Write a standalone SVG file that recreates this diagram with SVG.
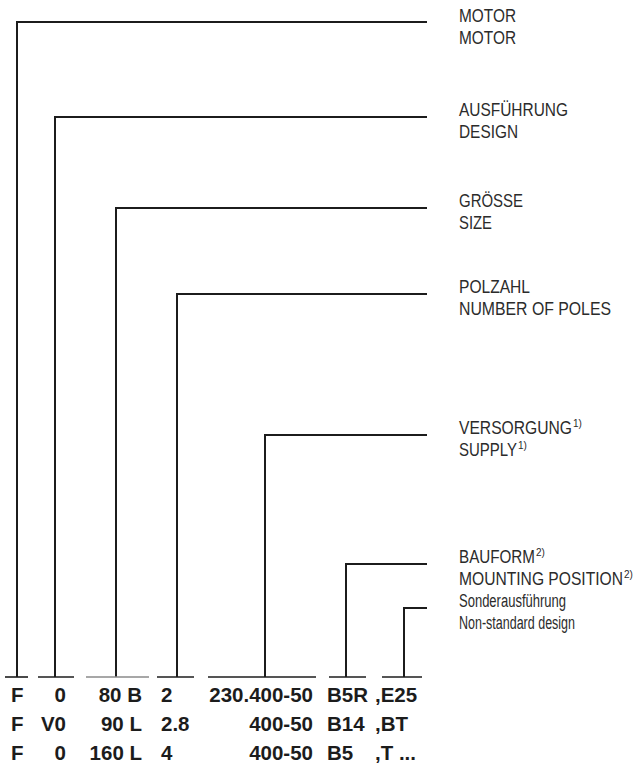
<svg xmlns="http://www.w3.org/2000/svg" width="634" height="765" viewBox="0 0 634 765">
  <style>
    .lead { fill: none; stroke: #1c1c1c; stroke-width: 2; stroke-linecap: butt; }
    .tick { fill: none; stroke: #1c1c1c; stroke-width: 1.6; }
    .tick.soft { stroke: #8a8a8a; }
    .lbl { font-family: "Liberation Sans", Arial, sans-serif; font-size: 18px; fill: #2b2b2b; }
    .sup { font-family: "Liberation Sans", Arial, sans-serif; font-size: 10px; fill: #2b2b2b; }
    .code { font-family: "Liberation Sans", Arial, sans-serif; font-size: 20.5px; font-weight: bold; fill: #1c1c1c; }
  </style>
  <rect width="634" height="765" fill="#ffffff"/>

  <!-- leader lines from each code column up to its caption -->
  <g id="connectors">
    <polyline class="lead" points="17,677 17,22 427,22"/>
    <polyline class="lead" points="55,677 55,117 427,117"/>
    <polyline class="lead" points="116,677 116,208 427,208"/>
    <polyline class="lead" points="177,677 177,294 427,294"/>
    <polyline class="lead" points="265,677 265,435 427,435"/>
    <polyline class="lead" points="346,677 346,564 427,564"/>
    <polyline class="lead" points="404,677 404,608 427,608"/>
    <!-- short bars above each code column -->
    <line class="tick" x1="5" y1="677" x2="28" y2="677"/>
    <line class="tick" x1="38" y1="677" x2="74" y2="677"/>
    <line class="tick soft" x1="86" y1="677" x2="149" y2="677"/>
    <line class="tick" x1="157" y1="677" x2="194" y2="677"/>
    <line class="tick" x1="208" y1="677" x2="316" y2="677"/>
    <line class="tick" x1="329" y1="677" x2="366" y2="677"/>
    <line class="tick" x1="382" y1="677" x2="422" y2="677"/>
  </g>

  <g id="motor">
    <text class="lbl" x="459" y="22" textLength="57" lengthAdjust="spacingAndGlyphs">MOTOR</text>
    <text class="lbl" x="459" y="44" textLength="57" lengthAdjust="spacingAndGlyphs">MOTOR</text>
  </g>
  <g id="design">
    <text class="lbl" x="459" y="116" textLength="109" lengthAdjust="spacingAndGlyphs">AUSFÜHRUNG</text>
    <text class="lbl" x="459" y="138" textLength="59" lengthAdjust="spacingAndGlyphs">DESIGN</text>
  </g>
  <g id="size">
    <text class="lbl" x="459" y="207" textLength="64" lengthAdjust="spacingAndGlyphs">GRÖSSE</text>
    <text class="lbl" x="459" y="229" textLength="33" lengthAdjust="spacingAndGlyphs">SIZE</text>
  </g>
  <g id="poles">
    <text class="lbl" x="459" y="293" textLength="71" lengthAdjust="spacingAndGlyphs">POLZAHL</text>
    <text class="lbl" x="459" y="315" textLength="152" lengthAdjust="spacingAndGlyphs">NUMBER OF POLES</text>
  </g>
  <g id="supply">
    <text class="lbl" x="459" y="434" textLength="113" lengthAdjust="spacingAndGlyphs">VERSORGUNG</text>
    <text class="sup" x="573" y="427">1)</text>
    <text class="lbl" x="459" y="456" textLength="58" lengthAdjust="spacingAndGlyphs">SUPPLY</text>
    <text class="sup" x="518" y="449">1)</text>
  </g>
  <g id="mounting">
    <text class="lbl" x="459" y="563" textLength="76" lengthAdjust="spacingAndGlyphs">BAUFORM</text>
    <text class="sup" x="536" y="556">2)</text>
    <text class="lbl" x="459" y="585" textLength="164" lengthAdjust="spacingAndGlyphs">MOUNTING POSITION</text>
    <text class="sup" x="624" y="578">2)</text>
  </g>
  <g id="special">
    <text class="lbl" x="459" y="607" textLength="107" lengthAdjust="spacingAndGlyphs">Sonderausführung</text>
    <text class="lbl" x="459" y="629" textLength="116" lengthAdjust="spacingAndGlyphs">Non-standard design</text>
  </g>

  <!-- example type codes, three rows -->
  <g id="codes">
    <text class="code" x="11" y="702">F</text>
    <text class="code" x="66" y="702" text-anchor="end">0</text>
    <text class="code" x="142" y="702" text-anchor="end">80 B</text>
    <text class="code" x="161" y="702">2</text>
    <text class="code" x="313" y="702" text-anchor="end">230.400-50</text>
    <text class="code" x="327" y="702">B5R</text>
    <text class="code" x="375" y="702">,E25</text>

    <text class="code" x="11" y="731">F</text>
    <text class="code" x="66" y="731" text-anchor="end">V0</text>
    <text class="code" x="142" y="731" text-anchor="end">90 L</text>
    <text class="code" x="161" y="731">2.8</text>
    <text class="code" x="313" y="731" text-anchor="end">400-50</text>
    <text class="code" x="327" y="731">B14</text>
    <text class="code" x="375" y="731">,BT</text>

    <text class="code" x="11" y="760">F</text>
    <text class="code" x="66" y="760" text-anchor="end">0</text>
    <text class="code" x="142" y="760" text-anchor="end">160 L</text>
    <text class="code" x="161" y="760">4</text>
    <text class="code" x="313" y="760" text-anchor="end">400-50</text>
    <text class="code" x="327" y="760">B5</text>
    <text class="code" x="375" y="760">,T ...</text>
  </g>
</svg>
